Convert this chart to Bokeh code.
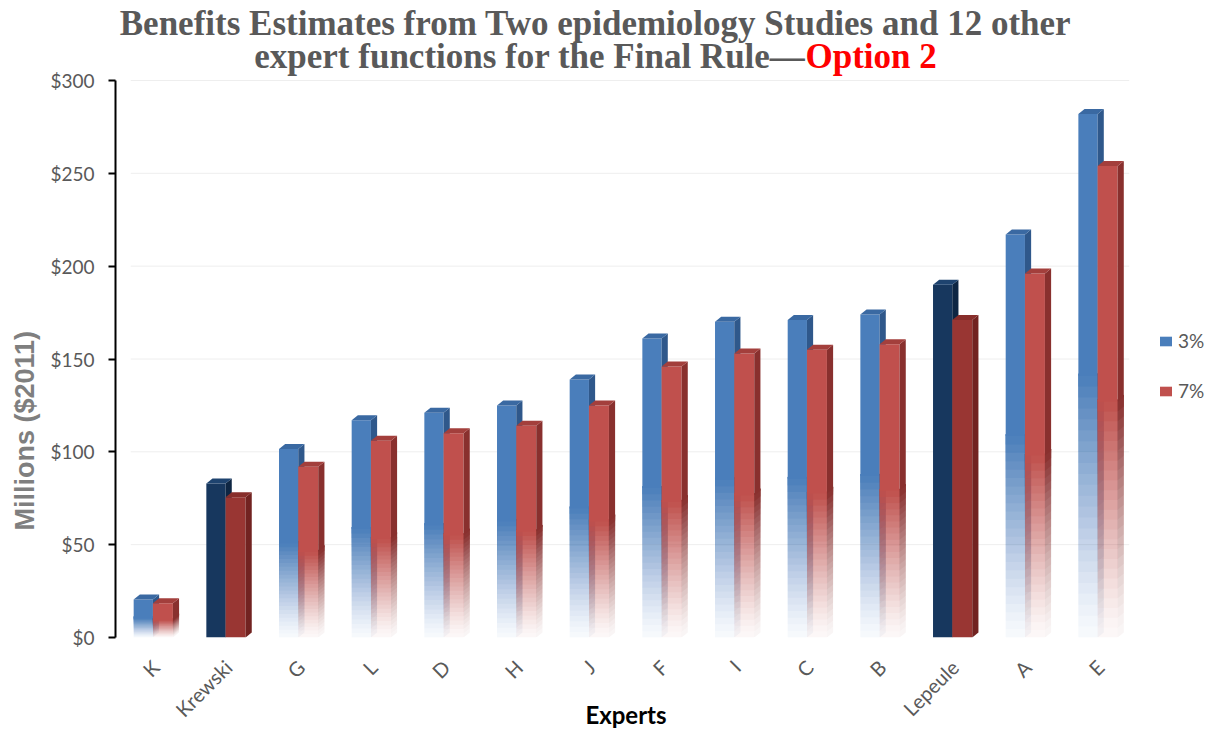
import math
from bokeh.plotting import figure
from bokeh.models import Range1d, FixedTicker, Label, Legend, LegendItem, ColumnDataSource, Title
from bokeh.embed import file_html
from bokeh.resources import INLINE

# ---------------- data ----------------
experts = ["K", "Krewski", "G", "L", "D", "H", "J", "F", "I", "C", "B", "Lepeule", "A", "E"]
rate_3pct = [20.5, 83, 101.5, 117, 121, 125, 139, 161, 170, 171, 174, 190, 217, 282]
rate_7pct = [18.5, 75.5, 92, 106, 110, 114, 125, 146, 153, 155, 158, 171, 196, 254]
highlighted = ["Krewski", "Lepeule"]
series_labels = ["3%", "7%"]
y_tick_values = [0, 50, 100, 150, 200, 250, 300]
y_tick_labels = ["$0", "$50", "$100", "$150", "$200", "$250", "$300"]

# ---------------- style ----------------
GRAY = "#595959"
styles = [
    {"front": "#4a7ebb", "side": "#2f588b", "cap": "#3a69a2",
     "front_hl": "#17375e", "side_hl": "#0e2643", "cap_hl": "#1e436f"},
    {"front": "#c0504d", "side": "#89302e", "cap": "#a33f3c",
     "front_hl": "#993633", "side_hl": "#722321", "cap_hl": "#882e2b"},
]
offsets = [(-0.30, -0.035), (-0.035, 0.24)]
DX = 0.085
DY = 2.7
FADE = 0.5
NSEG = 24
Y_TOP = 300 * 637 / 557.0

p = figure(frame_width=1021, frame_height=637,
           min_border_left=115, min_border_top=0, min_border_bottom=96, min_border_right=86,
           x_range=Range1d(-0.55, 13.5), y_range=Range1d(0, Y_TOP),
           output_backend="svg", toolbar_location=None,
           background_fill_color="white", border_fill_color="white",
           outline_line_color=None)

# faint gridlines (bounded like the reference's back wall)
p.xgrid.grid_line_color = None
p.ygrid.grid_line_color = None
p.segment(x0=[-0.34] * 6, x1=[13.4] * 6, y0=y_tick_values[1:], y1=y_tick_values[1:],
          line_color="#eeeeee", line_width=1)

# target cumulative opacity of the fade zone
def target(t):
    return 0.04 + 0.96 * t ** 1.3

legend_items = []
for s, vals in enumerate([rate_3pct, rate_7pct]):
    st = styles[s]
    ol, orr = offsets[s]
    solid = dict(left=[], right=[], bottom=[], top=[], color=[])
    seg = dict(xs=[], ys=[], color=[], alpha=[])
    sides = dict(xs=[], ys=[], color=[])
    caps = dict(xs=[], ys=[], color=[])
    for i, (name, v) in enumerate(zip(experts, vals)):
        hl = name in highlighted
        L, R = i + ol, i + orr
        fc = st["front_hl"] if hl else st["front"]
        sc = st["side_hl"] if hl else st["side"]
        cc = st["cap_hl"] if hl else st["cap"]
        y0 = 0 if hl else v * FADE
        solid["left"].append(L); solid["right"].append(R)
        solid["bottom"].append(y0); solid["top"].append(v); solid["color"].append(fc)
        sides["xs"].append([R, R + DX, R + DX, R])
        sides["ys"].append([y0, y0 + DY, v + DY, v])
        sides["color"].append(sc)
        if not hl:
            top = v * FADE + 1.0
            prev = 0.0
            for k in range(NSEG):
                a = v * FADE * k / NSEG
                A = target((k + 0.5) / NSEG)
                al = 1 - (1 - A) / (1 - prev)
                prev = A
                seg["xs"].append([L, R, R, L]); seg["ys"].append([a, a, top, top])
                seg["color"].append(fc); seg["alpha"].append(al)
                seg["xs"].append([R, R + DX, R + DX, R]); seg["ys"].append([a, a + DY, top + DY, top])
                seg["color"].append(sc); seg["alpha"].append(al)
        caps["xs"].append([L, L + DX, R + DX, R])
        caps["ys"].append([v, v + DY, v + DY, v])
        caps["color"].append(cc)
    p.patches("xs", "ys", source=ColumnDataSource(seg), fill_color="color",
              fill_alpha="alpha", line_color=None)
    r = p.quad(left="left", right="right", bottom="bottom", top="top",
               source=ColumnDataSource(solid), fill_color="color", line_color=None)
    p.patches("xs", "ys", source=ColumnDataSource(sides), fill_color="color", line_color=None)
    p.patches("xs", "ys", source=ColumnDataSource(caps), fill_color="color", line_color=None)
    legend_items.append(LegendItem(label=series_labels[s], renderers=[r], index=0))

legend = Legend(items=legend_items, location=(22, 235), border_line_color=None,
                background_fill_alpha=0, margin=0, padding=0, spacing=27,
                glyph_width=15, glyph_height=12, label_standoff=5,
                label_text_font="Lato", label_text_font_size="19px", label_text_color=GRAY)
p.add_layout(legend, "right")

# axes
p.yaxis.ticker = FixedTicker(ticks=y_tick_values)
p.yaxis.bounds = (0, 300)
p.yaxis.major_label_overrides = {v: l for v, l in zip(y_tick_values, y_tick_labels)}
p.yaxis.axis_line_color = "black"
p.yaxis.axis_line_width = 2
p.yaxis.major_tick_line_color = "black"
p.yaxis.major_tick_line_width = 2
p.yaxis.major_tick_out = 7
p.yaxis.major_tick_in = 0
p.yaxis.minor_tick_line_color = None
p.yaxis.major_label_standoff = 14
p.yaxis.major_label_text_font = "Lato"
p.yaxis.major_label_text_font_size = "19px"
p.yaxis.major_label_text_color = GRAY

p.xaxis.ticker = FixedTicker(ticks=list(range(len(experts))))
p.xaxis.major_label_overrides = {i: n for i, n in enumerate(experts)}
p.xaxis.axis_line_color = None
p.xaxis.major_tick_line_color = None
p.xaxis.minor_tick_line_color = None
p.xaxis.major_label_orientation = math.pi / 4
p.xaxis.major_label_standoff = 20
p.xaxis.major_label_text_font = "Lato"
p.xaxis.major_label_text_font_size = "20px"
p.xaxis.major_label_text_color = GRAY
p.xaxis.axis_label = "Experts"
p.xaxis.axis_label_text_font = "Lato"
p.xaxis.axis_label_text_font_size = "24px"
p.xaxis.axis_label_text_font_style = "bold"
p.xaxis.axis_label_text_color = "black"
p.xaxis.axis_label_standoff = -33

p.add_layout(Title(text="Millions ($2011)", align="left", offset=107, standoff=15,
                   text_font="Liberation Sans", text_font_size="27px", text_font_style="bold",
                   text_color="#7f7f7f"), "left")

# title (drawn in the frame's headroom)
TITLE_FONT = "Liberation Serif"
p.add_layout(Label(x=480, y=614, x_units="screen", y_units="screen",
                   text="Benefits Estimates from Two epidemiology Studies and 12 other",
                   text_font=TITLE_FONT, text_font_size="35px", text_font_style="bold",
                   text_color=GRAY, text_align="center", text_baseline="alphabetic"))
p.add_layout(Label(x=690, y=581, x_units="screen", y_units="screen",
                   text="expert functions for the Final Rule\u2014",
                   text_font=TITLE_FONT, text_font_size="35px", text_font_style="bold",
                   text_color=GRAY, text_align="right", text_baseline="alphabetic"))
p.add_layout(Label(x=690, y=581, x_units="screen", y_units="screen",
                   text="Option 2",
                   text_font=TITLE_FONT, text_font_size="35px", text_font_style="bold",
                   text_color="#ff0000", text_align="left", text_baseline="alphabetic"))

open("out.html", "w").write(file_html(p, INLINE))
